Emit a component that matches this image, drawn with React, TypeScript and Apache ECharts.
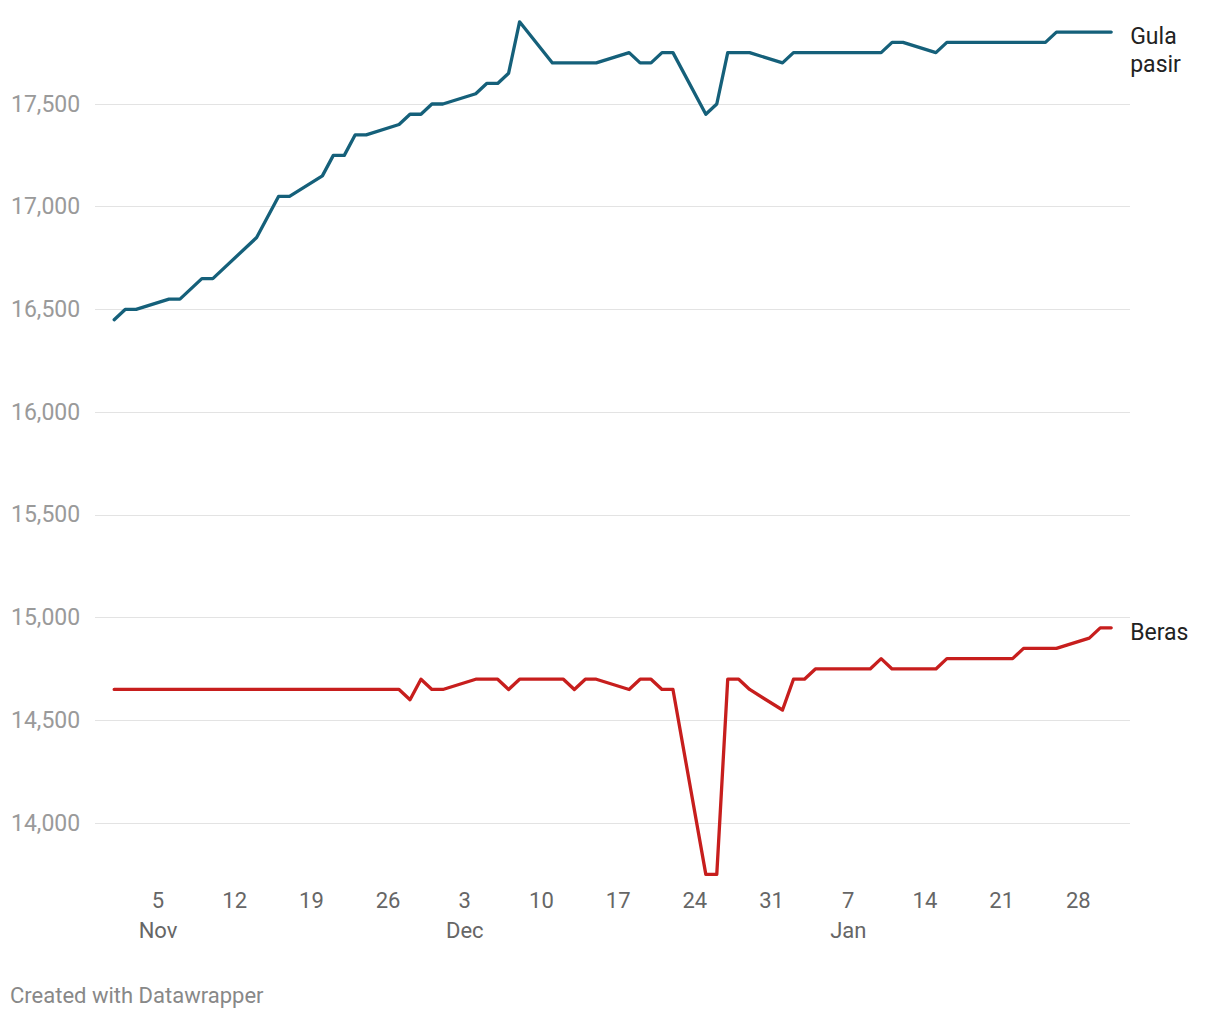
import React, { useEffect, useRef } from "react";
import * as echarts from "echarts";

// Gula pasir (granulated sugar) price, Rp/kg
const gulaDates = [
  "2023-11-01", "2023-11-02", "2023-11-03", "2023-11-06", "2023-11-07", "2023-11-09", "2023-11-10",
  "2023-11-14", "2023-11-16", "2023-11-17", "2023-11-20", "2023-11-21", "2023-11-22", "2023-11-23",
  "2023-11-24", "2023-11-27", "2023-11-28", "2023-11-29", "2023-11-30", "2023-12-01", "2023-12-04",
  "2023-12-05", "2023-12-06", "2023-12-07", "2023-12-08", "2023-12-11", "2023-12-15", "2023-12-18",
  "2023-12-19", "2023-12-20", "2023-12-21", "2023-12-22", "2023-12-25", "2023-12-26", "2023-12-27",
  "2023-12-29", "2024-01-01", "2024-01-02", "2024-01-10", "2024-01-11", "2024-01-12", "2024-01-15",
  "2024-01-16", "2024-01-25", "2024-01-26", "2024-01-31",
];
const gulaValues = [
  16450, 16500, 16500, 16550, 16550, 16650, 16650,
  16850, 17050, 17050, 17150, 17250, 17250, 17350,
  17350, 17400, 17450, 17450, 17500, 17500, 17550,
  17600, 17600, 17650, 17900, 17700, 17700, 17750,
  17700, 17700, 17750, 17750, 17450, 17500, 17750,
  17750, 17700, 17750, 17750, 17800, 17800, 17750,
  17800, 17800, 17850, 17850,
];

// Beras (rice) price, Rp/kg
const berasDates = [
  "2023-11-01", "2023-11-27", "2023-11-28", "2023-11-29", "2023-11-30", "2023-12-01", "2023-12-04",
  "2023-12-06", "2023-12-07", "2023-12-08", "2023-12-12", "2023-12-13", "2023-12-14", "2023-12-15",
  "2023-12-18", "2023-12-19", "2023-12-20", "2023-12-21", "2023-12-22", "2023-12-25", "2023-12-26",
  "2023-12-27", "2023-12-28", "2023-12-29", "2024-01-01", "2024-01-02", "2024-01-03", "2024-01-04",
  "2024-01-09", "2024-01-10", "2024-01-11", "2024-01-15", "2024-01-16", "2024-01-22", "2024-01-23",
  "2024-01-26", "2024-01-29", "2024-01-30", "2024-01-31",
];
const berasValues = [
  14650, 14650, 14600, 14700, 14650, 14650, 14700,
  14700, 14650, 14700, 14700, 14650, 14700, 14700,
  14650, 14700, 14700, 14650, 14650, 13750, 13750,
  14700, 14700, 14650, 14550, 14700, 14700, 14750,
  14750, 14800, 14750, 14750, 14800, 14800, 14850,
  14850, 14900, 14950, 14950,
];

const xTickDates = [
  "2023-11-05", "2023-11-12", "2023-11-19", "2023-11-26", "2023-12-03", "2023-12-10", "2023-12-17",
  "2023-12-24", "2023-12-31", "2024-01-07", "2024-01-14", "2024-01-21", "2024-01-28",
];
const monthNames = ["Jan", "Feb", "Mar", "Apr", "May", "Jun", "Jul", "Aug", "Sep", "Oct", "Nov", "Dec"];

const yMin = 14000;
const yMax = 17500;
const yInterval = 500;

const seriesNames = ["Gula\npasir", "Beras"];
const colors = ["#15607a", "#c71e1d"];

const DAY = 86400000;
const ts = (s: string) => {
  const [y, m, d] = s.split("-").map(Number);
  return Date.UTC(y, m - 1, d);
};
const BASE = ts(gulaDates[0]);
const dayIdx = (s: string) => Math.round((ts(s) - BASE) / DAY);

export default function App() {
  const ref = useRef<HTMLDivElement>(null);
  useEffect(() => {
    document.body.style.margin = "0";
    const chart = echarts.init(ref.current!, undefined, { renderer: "svg" });
    const tickIdx = xTickDates.map(dayIdx);
    const firstTickOfMonth = new Set<number>();
    const seen = new Set<string>();
    xTickDates.forEach((s, i) => {
      const k = s.slice(0, 7);
      if (!seen.has(k)) {
        seen.add(k);
        firstTickOfMonth.add(tickIdx[i]);
      }
    });
    const lastIdx = dayIdx(gulaDates[gulaDates.length - 1]);
    const font = "Roboto, 'Noto Sans', sans-serif";
    chart.setOption({
      animation: false,
      textStyle: { fontFamily: font },
      grid: { left: 95, right: 90, top: 104, bottom: 197, containLabel: false },
      xAxis: {
        type: "value",
        min: -1.752,
        max: lastIdx + 1.716,
        axisLine: { show: false },
        axisTick: { show: false },
        splitLine: { show: false },
        axisLabel: {
          customValues: tickIdx,
          margin: 62,
          color: "#666666",
          fontSize: 22,
          lineHeight: 30,
          fontFamily: font,
          showMinLabel: true,
          showMaxLabel: true,
          hideOverlap: false,
          formatter: (v: number) => {
            const d = new Date(BASE + Math.round(v) * DAY);
            const day = String(d.getUTCDate());
            return firstTickOfMonth.has(Math.round(v)) ? day + "\n" + monthNames[d.getUTCMonth()] : day;
          },
        },
      },
      yAxis: {
        type: "value",
        min: yMin,
        max: yMax,
        interval: yInterval,
        axisLine: { show: false },
        axisTick: { show: false },
        splitLine: { lineStyle: { color: "#e3e3e3", width: 1 } },
        axisLabel: {
          align: "left",
          margin: 84,
          color: "#9a9a9a",
          fontSize: 23,
          fontFamily: font,
          formatter: (v: number) => v.toLocaleString("en-US"),
        },
      },
      series: [
        {
          type: "line",
          name: seriesNames[0],
          data: gulaDates.map((d, i) => [dayIdx(d), gulaValues[i]]),
          showSymbol: false,
          clip: false,
          lineStyle: { color: colors[0], width: 3.3, cap: "round", join: "round" },
          itemStyle: { color: colors[0] },
          endLabel: {
            show: true,
            formatter: seriesNames[0],
            distance: 19,
            offset: [0, 18],
            color: "#222222",
            fontSize: 23,
            lineHeight: 28,
            fontFamily: font,
          },
        },
        {
          type: "line",
          name: seriesNames[1],
          data: berasDates.map((d, i) => [dayIdx(d), berasValues[i]]),
          showSymbol: false,
          clip: false,
          lineStyle: { color: colors[1], width: 3.3, cap: "round", join: "round" },
          itemStyle: { color: colors[1] },
          endLabel: {
            show: true,
            formatter: seriesNames[1],
            distance: 19,
            offset: [0, 5],
            color: "#222222",
            fontSize: 23,
            lineHeight: 28,
            fontFamily: font,
          },
        },
      ],
      graphic: [
        {
          type: "text",
          left: 10,
          top: 984,
          style: {
            text: "Created with Datawrapper",
            fill: "#888888",
            fontSize: 22,
            fontFamily: font,
          },
        },
      ],
    });
    return () => chart.dispose();
  }, []);
  return <div ref={ref} style={{ width: 1220, height: 1020 }} />;
}
